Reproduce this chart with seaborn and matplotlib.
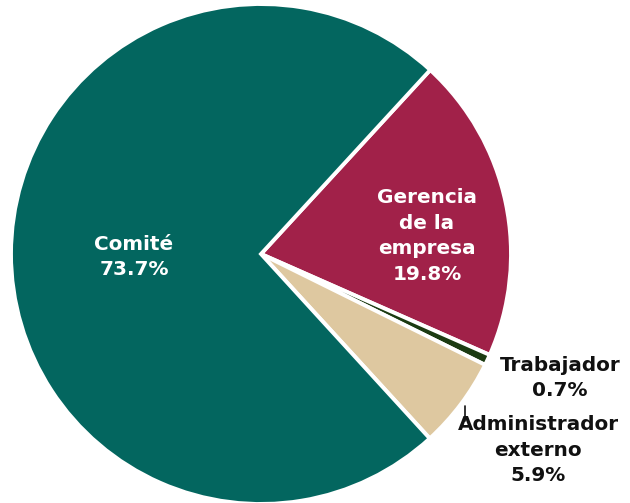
import matplotlib
matplotlib.use("Agg")
import matplotlib.pyplot as plt
import seaborn as sns

# Shares of who administers the fund
categories = ["Gerencia\nde la\nempresa", "Trabajador", "Administrador\nexterno", "Comité"]
shares = [19.8, 0.7, 5.9, 73.7]
colors = ["#A12149", "#1C3B12", "#DEC8A0", "#03665F"]

sns.set_theme(style="white")
plt.rcParams["font.family"] = ["DejaVu Sans"]

W, H, DPI = 630, 503, 100
CX, CY, R = 261, 254, 250  # pie centre and radius in pixels


def px(x, y):
    """Pixel position -> data coordinates of the unit pie."""
    return (x - CX) / R, (CY - y) / R


fig = plt.figure(figsize=(W / DPI, H / DPI), dpi=DPI)
ax = fig.add_axes([0, 0, 1, 1])
ax.pie(
    shares,
    colors=colors,
    startangle=47.4,
    counterclock=False,
    radius=1,
    wedgeprops=dict(edgecolor="white", linewidth=2.8),
)
ax.set_xlim(-CX / R, (W - CX) / R)
ax.set_ylim(-(H - CY) / R, CY / R)
ax.set_aspect("auto")
ax.axis("off")

fs = 14.4
labels = [
    (f"{categories[0]}\n{shares[0]}%", (427, 236), "white"),
    (f"{categories[3]}\n{shares[3]}%", (134, 257), "white"),
    (f"{categories[1]}\n{shares[1]}%", (560, 378), "#111111"),
    (f"{categories[2]}\n{shares[2]}%", (538, 450), "#111111"),
]
for text, (x, y), c in labels:
    ax.text(*px(x, y), text, ha="center", va="center", color=c,
            fontsize=fs, fontweight="bold", linespacing=1.46)

# leader tick for the small slice label
x0, y0 = px(465, 406)
x1, y1 = px(465, 421)
ax.plot([x0, x1], [y0, y1], color="#111111", lw=1.2)

fig.savefig("out.png", dpi=DPI)
